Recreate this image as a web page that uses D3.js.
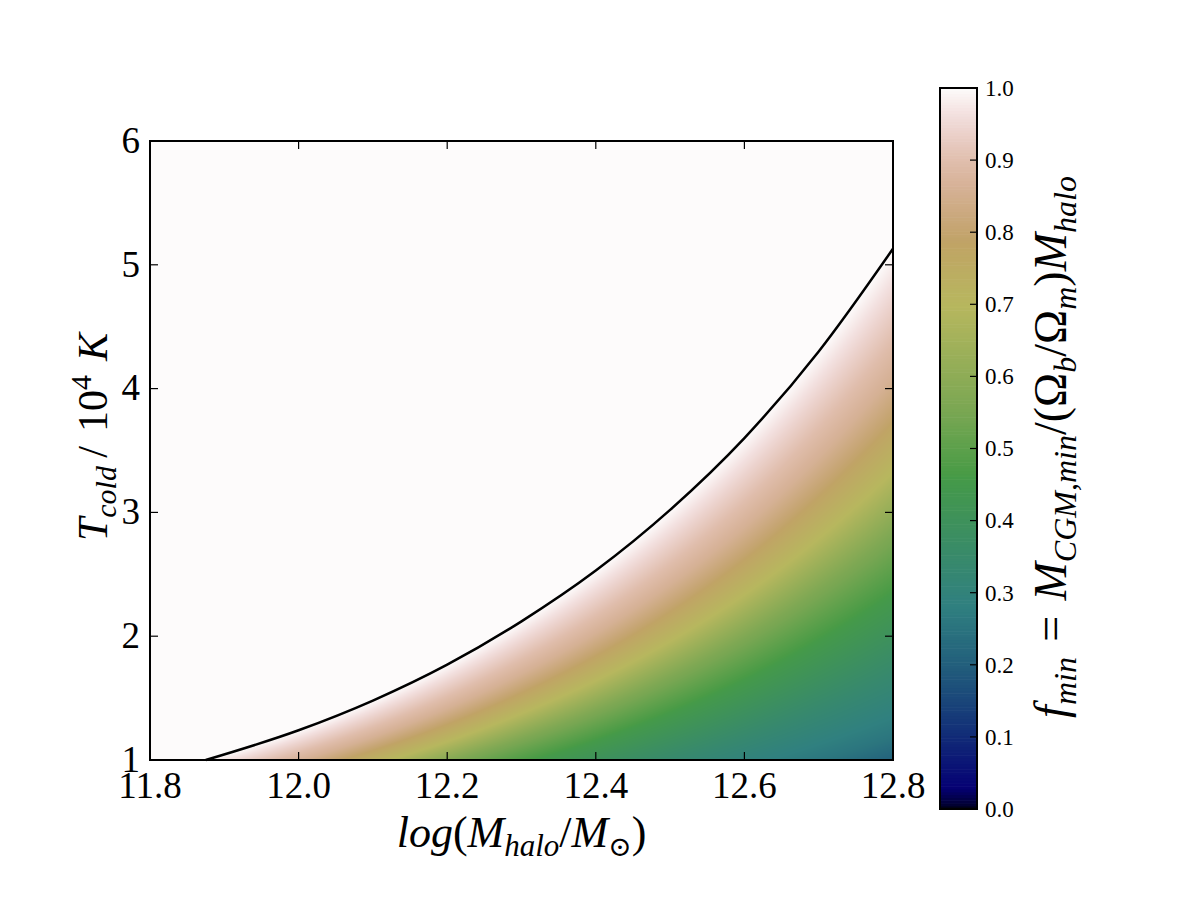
<!doctype html>
<html lang="en">
<head>
  <meta charset="UTF-8">
  <title>f_min map</title>
  <script src="https://cdn.jsdelivr.net/npm/d3@7/dist/d3.min.js"></script>
  <style>
    body { margin: 0; background: #fff; }
    text { font-family: "Liberation Serif", "DejaVu Serif", serif; fill: #000; }
    .it { font-style: italic; }
  </style>
</head>
<body>
<div id="container"></div>
<script type="text/javascript">
// boundary where f_min reaches 1
var boundaryLogM = [11.875, 12.0, 12.1, 12.2, 12.3, 12.4, 12.5, 12.6, 12.7, 12.8];
var boundaryT    = [1.00, 1.24, 1.48, 1.77, 2.12, 2.53, 3.02, 3.60, 4.30, 5.13];

// f_min against T / T_boundary, read along the colour bands
var tempRatio = [0.15, 0.19, 0.23, 0.33, 0.45, 0.55, 0.65, 0.74, 0.80, 0.86, 0.93, 1.00];
var fminValue = [0.17, 0.20, 0.255, 0.34, 0.45, 0.56, 0.70, 0.80, 0.86, 0.90, 0.95, 1.00];

var xTicks = [11.8, 12.0, 12.2, 12.4, 12.6, 12.8];
var yTicks = [1, 2, 3, 4, 5, 6];
var cbTicks = [0, 0.1, 0.2, 0.3, 0.4, 0.5, 0.6, 0.7, 0.8, 0.9, 1.0];

// gist_earth colormap segments
var gistRed = [[0.0,0.0],[0.2824,0.1882],[0.4588,0.2714],[0.5490,0.4719],[0.6980,0.7176],[0.7882,0.7553],[1.0,0.9922]];
var gistGreen = [[0.0,0.0],[0.0275,0.0],[0.1098,0.1893],[0.1647,0.3035],[0.2078,0.3841],[0.2824,0.5020],[0.5216,0.6397],
  [0.6980,0.7171],[0.7882,0.6392],[0.7922,0.6413],[0.8000,0.6447],[0.8078,0.6481],[0.8157,0.6549],[0.8667,0.6991],
  [0.8745,0.7103],[0.8824,0.7216],[0.8902,0.7323],[0.8980,0.7430],[0.9412,0.8275],[0.9569,0.8635],[0.9647,0.8816],
  [0.9961,0.9733],[1.0,0.9843]];
var gistBlue = [[0.0,0.0],[0.0039,0.1684],[0.0078,0.2212],[0.0275,0.4329],[0.0314,0.4549],[0.2824,0.5004],[0.4667,0.2748],
  [0.5451,0.3205],[0.7843,0.3961],[0.8941,0.6651],[1.0,0.9843]];

function channel(seg) {
  return d3.scaleLinear().domain(seg.map(function(s) { return s[0]; }))
    .range(seg.map(function(s) { return s[1] * 255; })).clamp(true);
}
var rS = channel(gistRed), gS = channel(gistGreen), bS = channel(gistBlue);
function gistRGB(v) { return [Math.round(rS(v)), Math.round(gS(v)), Math.round(bS(v))]; }
function gistEarth(v) { var c = gistRGB(v); return 'rgb(' + c[0] + ',' + c[1] + ',' + c[2] + ')'; }

var pLeft = 150, pRight = 893, pTop = 141, pBottom = 760;
var x = d3.scaleLinear().domain([11.8, 12.8]).range([pLeft, pRight]);
var y = d3.scaleLinear().domain([1, 6]).range([pBottom, pTop]);
var logTb = d3.scaleLinear().domain(boundaryLogM).range(boundaryT.map(function(t) { return Math.log10(t); }));
var profile = d3.scaleLinear().domain(tempRatio).range(fminValue).clamp(true);

var svg = d3.select('#container').append('svg')
  .attr('width', 1200).attr('height', 900);

// raster of f_min
var pw = pRight - pLeft, ph = pBottom - pTop;
var canvas = document.createElement('canvas');
canvas.width = pw; canvas.height = ph;
var ctx = canvas.getContext('2d');
var img = ctx.createImageData(pw, ph);
for (var j = 0; j < ph; j++) {
  var T = y.invert(pTop + j + 0.5);
  for (var i = 0; i < pw; i++) {
    var M = x.invert(pLeft + i + 0.5);
    var r = T / Math.pow(10, logTb(M));
    var f = r >= 1 ? 1 : profile(r);
    var c = gistRGB(f);
    var k = (j * pw + i) * 4;
    img.data[k] = c[0]; img.data[k+1] = c[1]; img.data[k+2] = c[2]; img.data[k+3] = 255;
  }
}
ctx.putImageData(img, 0, 0);

var boundary = boundaryLogM.map(function(m, i) { return [m, boundaryT[i]]; });

var defs = svg.append('defs');
defs.append('clipPath').attr('id', 'below')
  .append('path')
  .attr('d', d3.area()
    .x(function(d) { return x(d[0]); })
    .y0(pBottom)
    .y1(function(d) { return y(d[1]); })
    .curve(d3.curveMonotoneX)(boundary));

svg.append('rect')
  .attr('x', pLeft).attr('y', pTop).attr('width', pw).attr('height', ph)
  .attr('fill', gistEarth(1));

svg.append('image')
  .attr('x', pLeft).attr('y', pTop).attr('width', pw).attr('height', ph)
  .attr('preserveAspectRatio', 'none')
  .attr('href', canvas.toDataURL())
  .attr('clip-path', 'url(#below)');

svg.append('path')
  .attr('d', d3.line()
    .x(function(d) { return x(d[0]); })
    .y(function(d) { return y(d[1]); })
    .curve(d3.curveMonotoneX)(boundary))
  .attr('fill', 'none').attr('stroke', '#000').attr('stroke-width', 2.5);

// frame + inward ticks on all sides
svg.append('rect')
  .attr('x', pLeft).attr('y', pTop).attr('width', pw).attr('height', ph)
  .attr('fill', 'none').attr('stroke', '#000').attr('stroke-width', 2);

xTicks.forEach(function(t) {
  svg.append('line').attr('x1', x(t)).attr('x2', x(t)).attr('y1', pBottom).attr('y2', pBottom - 8)
    .attr('stroke', '#000').attr('stroke-width', 1.2);
  svg.append('line').attr('x1', x(t)).attr('x2', x(t)).attr('y1', pTop).attr('y2', pTop + 8)
    .attr('stroke', '#000').attr('stroke-width', 1.2);
  svg.append('text').attr('x', x(t)).attr('y', 798)
    .attr('text-anchor', 'middle').style('font-size', '37px')
    .text(t.toFixed(1));
});
yTicks.forEach(function(t) {
  svg.append('line').attr('x1', pLeft).attr('x2', pLeft + 8).attr('y1', y(t)).attr('y2', y(t))
    .attr('stroke', '#000').attr('stroke-width', 1.2);
  svg.append('line').attr('x1', pRight).attr('x2', pRight - 8).attr('y1', y(t)).attr('y2', y(t))
    .attr('stroke', '#000').attr('stroke-width', 1.2);
  svg.append('text').attr('x', 140).attr('y', y(t)).attr('dy', '0.32em')
    .attr('text-anchor', 'end').style('font-size', '37px')
    .text(t);
});

// centre a multi-part label on a point along its own baseline
function centre(sel, cx, cy, rotate) {
  var len = sel.node().getComputedTextLength();
  if (rotate) sel.attr('transform', 'translate(' + cx + ',' + (cy + len / 2) + ') rotate(-90)');
  else sel.attr('x', cx - len / 2).attr('y', cy);
}
function part(sel, txt, opt) {
  opt = opt || {};
  var t = sel.append('tspan').text(txt);
  if (opt.it) t.attr('class', 'it');
  if (opt.dy) t.attr('dy', opt.dy);
  if (opt.size) t.style('font-size', opt.size + 'px');
  return t;
}

// axis labels
var xl = svg.append('text').style('font-size', '44px');
part(xl, 'log', {it: true});
part(xl, '(');
part(xl, 'M', {it: true});
part(xl, 'halo', {it: true, dy: 9, size: 31});
part(xl, '/', {dy: -9});
part(xl, 'M', {it: true});
part(xl, '\u2299', {dy: 9, size: 28});
part(xl, ')', {dy: -9});
centre(xl, (pLeft + pRight) / 2, 847, false);

var yl = svg.append('text').style('font-size', '42px');
part(yl, 'T', {it: true});
part(yl, 'cold', {it: true, dy: 9, size: 30});
part(yl, '\u2009/\u2004', {dy: -9});
part(yl, '10');
part(yl, '4', {dy: -16, size: 30});
part(yl, '\u2004K', {it: true, dy: 16});
centre(yl, 107, 437, true);

// colorbar
var cbLeft = 940, cbRight = 977, cbTop = 88, cbBottom = 809;
var cbY = d3.scaleLinear().domain([0, 1]).range([cbBottom, cbTop]);
var levels = d3.range(0, 256).map(function(i) { return i / 256; });
svg.append('g').selectAll('rect').data(levels).enter().append('rect')
  .attr('x', cbLeft).attr('width', cbRight - cbLeft)
  .attr('y', function(d) { return cbY(d + 1 / 256) - 0.3; })
  .attr('height', function(d) { return cbY(d) - cbY(d + 1 / 256) + 0.6; })
  .attr('fill', function(d) { return gistEarth(d + 0.5 / 256); });
svg.append('rect')
  .attr('x', cbLeft).attr('y', cbTop).attr('width', cbRight - cbLeft).attr('height', cbBottom - cbTop)
  .attr('fill', 'none').attr('stroke', '#000').attr('stroke-width', 2);
cbTicks.forEach(function(t) {
  svg.append('line').attr('x1', cbRight).attr('x2', cbRight - 7).attr('y1', cbY(t)).attr('y2', cbY(t))
    .attr('stroke', '#000').attr('stroke-width', 1.2);
  svg.append('text').attr('x', 985).attr('y', cbY(t)).attr('dy', '0.34em')
    .style('font-size', '23px').text(t.toFixed(1));
});

var cl = svg.append('text').style('font-size', '46px');
part(cl, 'f', {it: true});
part(cl, 'min', {it: true, dy: 10, size: 32});
part(cl, '\u2004=\u2004', {dy: -10});
part(cl, 'M', {it: true});
part(cl, 'CGM,min', {it: true, dy: 10, size: 32});
part(cl, '/(\u03A9', {dy: -10});
part(cl, 'b', {it: true, dy: 10, size: 32});
part(cl, '/\u03A9', {dy: -10});
part(cl, 'm', {it: true, dy: 10, size: 32});
part(cl, ')', {dy: -10});
part(cl, 'M', {it: true});
part(cl, 'halo', {it: true, dy: 10, size: 32});
centre(cl, 1066, 447, true);
</script>
</body>
</html>
